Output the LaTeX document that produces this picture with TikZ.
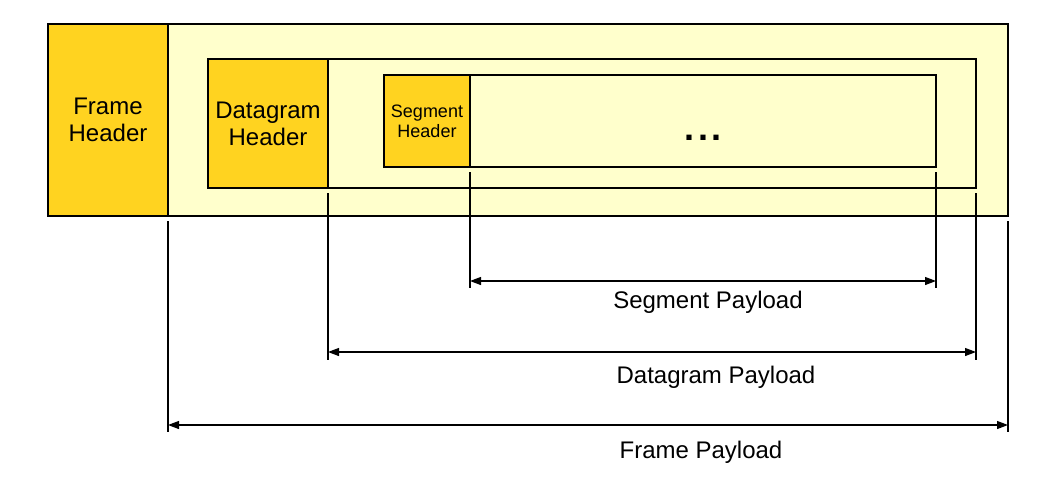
\documentclass[tikz,border=0pt]{standalone}
\usepackage{fontspec}
\setmainfont{Liberation Sans}
\usetikzlibrary{positioning, arrows.meta}
\definecolor{hdrgold}{HTML}{FFD320}
\definecolor{paleyellow}{HTML}{FFFFCC}
\tikzset{
  box/.style={draw, line width=1.3pt, outer sep=0pt, inner sep=0pt, align=center},
  hdr/.style={box, fill=hdrgold, font=\fontsize{24}{27}\selectfont},
  pay/.style={box, fill=paleyellow},
  extline/.style={line width=1.2pt},
  dimarrow/.style={line width=1.2pt, {Triangle[length=11pt,width=8pt]}-{Triangle[length=11pt,width=8pt]}},
  lbl/.style={font=\fontsize{24}{27}\selectfont, anchor=base},
}
\begin{document}
\begin{tikzpicture}[x=1pt, y=-1pt]
\useasboundingbox (0,0) rectangle (1047,480);
% frame
\node[pay, minimum width=840pt, minimum height=192pt, anchor=north west] (framepay) at (168,24) {};
\node[hdr, minimum width=120pt, minimum height=192pt, left=0pt of framepay] (framehdr) {Frame\\Header};
% datagram
\node[pay, minimum width=648pt, minimum height=129pt, anchor=north west] (datpay) at (328,59) {};
\node[hdr, minimum width=120pt, minimum height=129pt, left=0pt of datpay] (dathdr) {Datagram\\Header};
% segment
\node[pay, minimum width=466pt, minimum height=92pt, anchor=north west] (segpay) at (470,75) {};
\node[hdr, minimum width=86pt, minimum height=92pt, left=0pt of segpay, font=\fontsize{18}{20}\selectfont] (seghdr) {Segment\\Header};
\node[font=\fontsize{36}{36}\selectfont\bfseries, anchor=base] (dots) at (703,140) {.\kern3.5pt.\kern3.5pt.};

% dimension rows
\coordinate (segrow) at (0,281);
\coordinate (datrow) at (0,352);
\coordinate (frmrow) at (0,425);
\coordinate (segend) at (0,288);
\coordinate (datend) at (0,360);
\coordinate (frmend) at (0,432);

% extension lines
\draw[extline] ([yshift=-5pt]segpay.south west) -- (segpay.south west |- segend);
\draw[extline] ([yshift=-5pt]segpay.south east) -- (segpay.south east |- segend);
\draw[extline] ([yshift=-5pt]datpay.south west) -- (datpay.south west |- datend);
\draw[extline] ([yshift=-5pt]datpay.south east) -- (datpay.south east |- datend);
\draw[extline] ([yshift=-5pt]framepay.south west) -- (framepay.south west |- frmend);
\draw[extline] ([yshift=-5pt]framepay.south east) -- (framepay.south east |- frmend);

% arrows
\draw[dimarrow] (segpay.south west |- segrow) -- (segpay.south east |- segrow);
\draw[dimarrow] (datpay.south west |- datrow) -- (datpay.south east |- datrow);
\draw[dimarrow] (framepay.south west |- frmrow) -- (framepay.south east |- frmrow);

% labels
\node[lbl] (seglbl) at (708,308) {Segment Payload};
\node[lbl] (datlbl) at (716,383) {Datagram Payload};
\node[lbl] (frmlbl) at (701,458) {Frame Payload};
\end{tikzpicture}
\end{document}
